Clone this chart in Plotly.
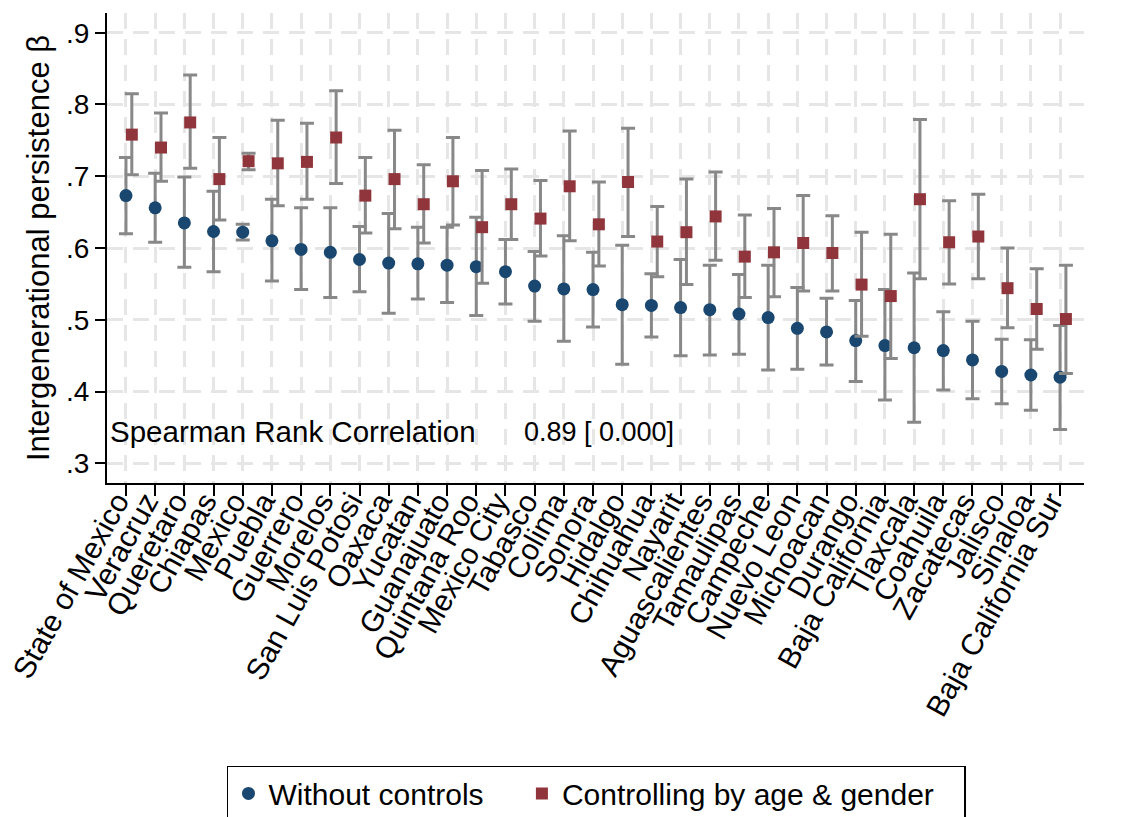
import plotly.graph_objects as go

states = [
    "State of Mexico", "Veracruz", "Queretaro", "Chiapas", "Mexico", "Puebla",
    "Guerrero", "Morelos", "San Luis Potosi", "Oaxaca", "Yucatan", "Guanajuato",
    "Quintana Roo", "Mexico City", "Tabasco", "Colima", "Sonora", "Hidalgo",
    "Chihuahua", "Nayarit", "Aguascalientes", "Tamaulipas", "Campeche",
    "Nuevo Leon", "Michoacan", "Durango", "Baja California", "Tlaxcala",
    "Coahuila", "Zacatecas", "Jalisco", "Sinaloa", "Baja California Sur",
]

# Estimates without controls, with 95% confidence bounds
beta_raw = [0.673, 0.656, 0.635, 0.623, 0.622, 0.610, 0.598, 0.594, 0.584, 0.579,
            0.578, 0.576, 0.574, 0.567, 0.547, 0.543, 0.542, 0.521, 0.520, 0.517,
            0.514, 0.508, 0.503, 0.488, 0.483, 0.471, 0.464, 0.461, 0.457, 0.444,
            0.428, 0.423, 0.420]
raw_hi = [0.726, 0.704, 0.699, 0.679, 0.633, 0.668, 0.656, 0.656, 0.630, 0.648,
          0.629, 0.629, 0.643, 0.612, 0.595, 0.617, 0.594, 0.604, 0.564, 0.584,
          0.576, 0.563, 0.576, 0.545, 0.530, 0.527, 0.542, 0.565, 0.511, 0.498,
          0.473, 0.472, 0.492]
raw_lo = [0.620, 0.608, 0.573, 0.567, 0.611, 0.554, 0.542, 0.531, 0.539, 0.509,
          0.529, 0.524, 0.506, 0.522, 0.498, 0.470, 0.490, 0.438, 0.476, 0.450,
          0.451, 0.452, 0.430, 0.431, 0.437, 0.414, 0.388, 0.357, 0.402, 0.390,
          0.383, 0.374, 0.347]

# Estimates controlling by age and gender, with 95% confidence bounds
beta_ctrl = [0.758, 0.740, 0.775, 0.696, 0.721, 0.718, 0.720, 0.754, 0.673, 0.696,
             0.661, 0.693, 0.629, 0.661, 0.641, 0.686, 0.633, 0.692, 0.609, 0.622,
             0.644, 0.588, 0.594, 0.607, 0.593, 0.549, 0.533, 0.668, 0.608, 0.616,
             0.544, 0.515, 0.501]
ctrl_hi = [0.815, 0.788, 0.841, 0.754, 0.732, 0.778, 0.774, 0.819, 0.726, 0.764,
           0.716, 0.754, 0.708, 0.710, 0.694, 0.763, 0.692, 0.767, 0.658, 0.696,
           0.706, 0.646, 0.655, 0.673, 0.645, 0.622, 0.619, 0.779, 0.666, 0.675,
           0.600, 0.571, 0.576]
ctrl_lo = [0.702, 0.693, 0.711, 0.639, 0.709, 0.659, 0.668, 0.690, 0.621, 0.627,
           0.607, 0.632, 0.551, 0.612, 0.589, 0.610, 0.575, 0.616, 0.560, 0.549,
           0.583, 0.531, 0.532, 0.540, 0.540, 0.477, 0.446, 0.557, 0.550, 0.557,
           0.489, 0.459, 0.425]

y_ticks = [0.3, 0.4, 0.5, 0.6, 0.7, 0.8, 0.9]
y_tick_text = [".3", ".4", ".5", ".6", ".7", ".8", ".9"]

BLUE = "#1a476f"
RED = "#90353b"
GREY = "#888888"
FONT = "Liberation Sans, Arial, sans-serif"
NBSP = "\u00a0"

pos = list(range(len(states)))
pos_ctrl = [p + 0.2 for p in pos]

fig = go.Figure()
fig.add_trace(go.Scatter(
    x=pos, y=beta_raw, mode="markers",
    name="Without controls" + NBSP * 4,
    marker=dict(symbol="circle", size=13, color=BLUE),
    error_y=dict(type="data", symmetric=False,
                 array=[h - b for h, b in zip(raw_hi, beta_raw)],
                 arrayminus=[b - l for b, l in zip(beta_raw, raw_lo)],
                 color=GREY, thickness=3, width=7),
))
fig.add_trace(go.Scatter(
    x=pos_ctrl, y=beta_ctrl, mode="markers",
    name="Controlling by age & gender" + NBSP * 3,
    marker=dict(symbol="square", size=12, color=RED),
    error_y=dict(type="data", symmetric=False,
                 array=[h - b for h, b in zip(ctrl_hi, beta_ctrl)],
                 arrayminus=[b - l for b, l in zip(beta_ctrl, ctrl_lo)],
                 color=GREY, thickness=3, width=7),
))

grid = dict(showgrid=True, gridcolor="#e6e6e6", gridwidth=2.5, griddash="16px,10px")

fig.update_layout(
    width=1132, height=817,
    margin=dict(l=107, r=48, t=13, b=334, autoexpand=False),
    paper_bgcolor="white", plot_bgcolor="white",
    font=dict(family=FONT, color="black"),
    showlegend=True,
    legend=dict(
        orientation="h", x=0.1228, y=-0.602, xanchor="left", yanchor="top",
        bgcolor="white", bordercolor="black", borderwidth=1.5,
        font=dict(size=30, family=FONT), itemsizing="trace",
    ),
    xaxis=dict(
        range=[-0.65, 32.82], tickmode="array", tickvals=pos, ticktext=states,
        tickangle=-61, tickfont=dict(size=30), ticks="outside", ticklen=11,
        tickwidth=2, tickcolor="black", showline=True, linecolor="black",
        linewidth=2, zeroline=False, ticklabelstandoff=-24, ticklabelshift=-9,
        ticklabeloverflow="allow", **grid,
    ),
    yaxis=dict(
        range=[0.2725, 0.9275], tickmode="array", tickvals=y_ticks,
        ticktext=y_tick_text, tickfont=dict(size=28), ticks="outside",
        ticklen=10, tickwidth=2, tickcolor="black", showline=True,
        linecolor="black", linewidth=2, zeroline=False,
        title=dict(text="Intergenerational persistence β", font=dict(size=31),
                   standoff=7),
        **grid,
    ),
    yaxis2=dict(
        overlaying="y", side="right", matches="y", range=[0.2725, 0.9275],
        tickmode="array", tickvals=y_ticks, ticktext=y_tick_text,
        tickfont=dict(size=28), ticks="outside", ticklen=10, tickwidth=2,
        tickcolor="black", showline=True, linecolor="black", linewidth=2,
        showgrid=False, zeroline=False,
    ),
)

fig.add_annotation(
    text="Spearman Rank Correlation", xref="paper", yref="y", x=0.001, y=0.3436,
    xanchor="left", yanchor="middle", showarrow=False, font=dict(size=29.5),
)
fig.add_annotation(
    text="0.89 [ 0.000]", xref="paper", yref="y", x=0.4248, y=0.3436,
    xanchor="left", yanchor="middle", showarrow=False, font=dict(size=27),
)

fig.write_html("out.html")
